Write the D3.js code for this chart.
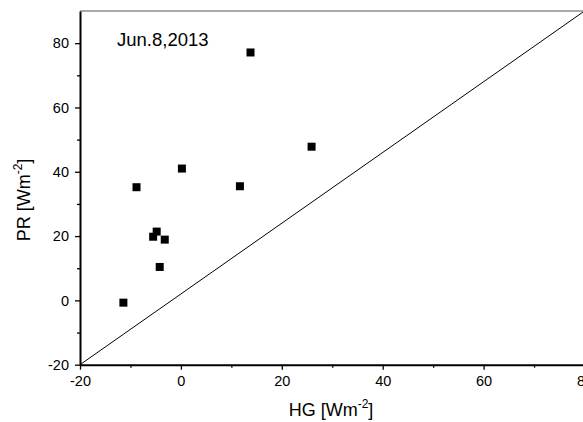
<!DOCTYPE html>
<html>
<head>
<meta charset="utf-8">
<script src="https://cdn.jsdelivr.net/npm/d3@7"></script>
<style>
  html, body { margin: 0; padding: 0; background: #fff; overflow: hidden; }
  text { font-family: "Liberation Sans", Arial, sans-serif; fill: #000; }
</style>
</head>
<body>
<svg class="svg"></svg>
<script>
// data
const hg = [13.8, 0.2, -8.8, 11.7, 25.9, -4.8, -5.5, -3.2, -4.2, -11.4];
const pr = [77.1, 41.0, 35.2, 35.5, 47.8, 21.4, 19.8, 18.9, 10.4, -0.7];
const lineX = [-20, 80];
const lineY = [-20, 90];
const xTicks = [-20, 0, 20, 40, 60, 80];
const yTicks = [-20, 0, 20, 40, 60, 80];
const xMinor = [-10, 10, 30, 50, 70];
const yMinor = [-10, 10, 30, 50, 70];
const dateLabel = 'Jun.8,2013';

const width = 583;
const height = 422;

const x = d3.scaleLinear().domain([-20, 80]).range([80, 584.5]);
const y = d3.scaleLinear().domain([-20, 90]).range([364.7, 11]);

const svg = d3.select('.svg')
  .attr('width', width)
  .attr('height', height);

// top frame line
svg.append('line')
  .attr('x1', x(-20)).attr('x2', x(80))
  .attr('y1', y(90)).attr('y2', y(90))
  .attr('stroke', '#555')
  .attr('stroke-width', 1);

// reference line
svg.append('line')
  .attr('x1', x(lineX[0])).attr('y1', y(lineY[0]))
  .attr('x2', x(lineX[1])).attr('y2', y(lineY[1]))
  .attr('stroke', '#000')
  .attr('stroke-width', 1);

// points
svg.append('g')
  .selectAll('rect')
  .data(hg.map((d, i) => ({ hg: d, pr: pr[i] })))
  .join('rect')
  .attr('x', d => x(d.hg) - 4)
  .attr('y', d => y(d.pr) - 4)
  .attr('width', 8)
  .attr('height', 8)
  .attr('fill', '#000');

const fmt = d => String(d);

// axes
svg.append('g')
  .attr('transform', `translate(0,${y(-20)})`)
  .call(d3.axisBottom(x).tickValues(xTicks).tickSize(5).tickSizeOuter(0).tickPadding(6).tickFormat(fmt));
svg.append('g')
  .attr('transform', `translate(0,${y(-20)})`)
  .call(d3.axisBottom(x).tickValues(xMinor).tickSize(3).tickSizeOuter(0).tickFormat(''))
  .select('.domain').remove();

svg.append('g')
  .attr('transform', `translate(${x(-20)},0)`)
  .call(d3.axisLeft(y).tickValues(yTicks).tickSize(5).tickSizeOuter(0).tickPadding(6).tickFormat(fmt));
svg.append('g')
  .attr('transform', `translate(${x(-20)},0)`)
  .call(d3.axisLeft(y).tickValues(yMinor).tickSize(3).tickSizeOuter(0).tickFormat(''))
  .select('.domain').remove();

svg.selectAll('.domain').attr('stroke', '#000').attr('stroke-width', 2);
svg.selectAll('.tick line').attr('stroke', '#000').attr('stroke-width', 1.3);
svg.selectAll('.tick text')
  .style('font-family', '"Liberation Sans", Arial, sans-serif')
  .style('font-size', '14.5px')
  .attr('fill', '#000');

// annotation
svg.append('text')
  .attr('x', 117)
  .attr('y', 46)
  .style('font-size', '18.5px')
  .text(dateLabel);

// axis titles
const xt = svg.append('text')
  .attr('x', 331)
  .attr('y', 416)
  .attr('text-anchor', 'middle')
  .style('font-size', '18px');
xt.append('tspan').text('HG [Wm');
xt.append('tspan').attr('dy', -8).style('font-size', '12px').text('-2');
xt.append('tspan').attr('dy', 8).text(']');

const yt = svg.append('text')
  .attr('transform', 'translate(30,200) rotate(-90)')
  .attr('text-anchor', 'middle')
  .style('font-size', '18px');
yt.append('tspan').text('PR [Wm');
yt.append('tspan').attr('dy', -8).style('font-size', '12px').text('-2');
yt.append('tspan').attr('dy', 8).text(']');
</script>
</body>
</html>
